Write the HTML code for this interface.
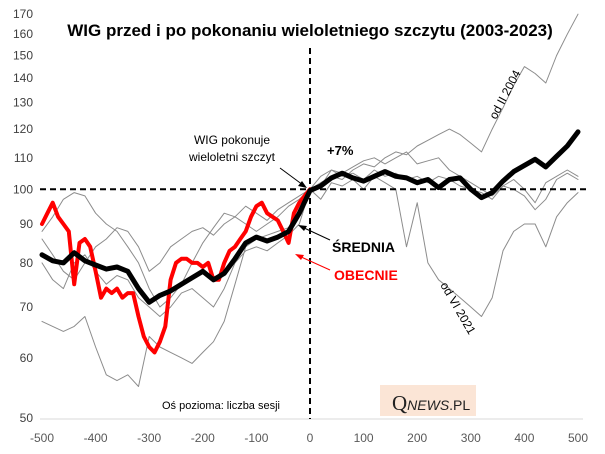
<!DOCTYPE html>
<html><head><meta charset="utf-8"><style>
body{margin:0;background:#fff}
svg{display:block;font-family:"Liberation Sans",sans-serif}
</style></head><body>
<svg id="c" width="605" height="454" viewBox="0 0 605 454">
<rect width="605" height="454" fill="#fff"/>
<text x="310" y="36" text-anchor="middle" font-size="17" font-weight="bold" fill="#000">WIG przed i po pokonaniu wieloletniego szczytu (2003-2023)</text>
<g id="yaxis"></g>
<g id="xaxis"></g>
<rect x="380" y="385" width="96" height="31" fill="#fbe5d6"/>
<text x="392" y="410" font-family="Liberation Serif,serif" font-size="21" fill="#222">Q<tspan font-size="14" font-style="italic" font-family="Liberation Sans,sans-serif">NEWS</tspan><tspan font-size="14" font-family="Liberation Sans,sans-serif">.PL</tspan></text>
<g id="series"></g>
<g id="ref"></g>
<text x="232" y="144" text-anchor="middle" font-size="12" fill="#000">WIG pokonuje</text>
<text x="232" y="161" text-anchor="middle" font-size="12" fill="#000">wieloletni szczyt</text>
<line x1="280" y1="168" x2="303" y2="185" stroke="#000" stroke-width="1"/>
<polygon points="307,188 298,186 302,181" fill="#000"/>
<text x="327" y="155" font-size="13" font-weight="bold" fill="#000">+7%</text>
<text x="332" y="252" font-size="14" font-weight="bold" fill="#000">ŚREDNIA</text>
<line x1="330" y1="240" x2="302" y2="227" stroke="#000" stroke-width="1"/>
<polygon points="298,225 307,226 304,231" fill="#000"/>
<text x="334" y="280" font-size="14" font-weight="bold" fill="#ff0000">OBECNIE</text>
<line x1="330" y1="270" x2="299" y2="256" stroke="#ff0000" stroke-width="1"/>
<polygon points="295,254 304,255 301,260" fill="#ff0000"/>
<text transform="translate(496,120) rotate(-62)" font-size="12" fill="#000">od II 2004</text>
<text transform="translate(440,285) rotate(60)" font-size="12" fill="#000">od VI 2021</text>
<text x="162" y="409" font-size="11" fill="#000">Oś pozioma: liczba sesji</text>
</svg>
<script>
const yTicks=[50,60,70,80,90,100,110,120,130,140,150,160,170];
const xTicks=[-500,-400,-300,-200,-100,0,100,200,300,400,500];
const preSessions=[-500,-480,-460,-440,-420,-400,-380,-360,-340,-320,-300,-280,-260,-240,-220,-200,-180,-160,-140,-120,-100,-80,-60,-40,-20,0];
const postSessions=[20,40,60,80,100,120,140,160,180,200,220,240,260,280,300,320,340,360,380,400,420,440,460,480,500];
const g1Pre=[67,66,65,66,68,62,57,56,57,55,64,62,61,60,59,61,63,67,75,84,86,87,88,89,94,100];
const g1Post=[102,104,103,106,108,107,110,112,111,114,116,118,120,118,115,112,120,128,137,145,142,138,150,160,170];
const g2Pre=[88,92,97,99,98,93,90,88,84,80,74,70,72,75,80,85,89,93,92,90,88,90,92,95,97,100];
const g2Post=[97,102,101,103,100,104,102,100,84,96,80,76,74,72,70,68,72,83,88,90,90,84,92,96,99];
const g3Pre=[86,82,78,76,80,84,86,89,88,84,78,80,84,86,88,89,87,90,92,95,93,91,94,96,98,100];
const g3Post=[104,106,105,107,109,110,108,110,112,108,109,110,106,104,102,100,98,101,103,100,96,102,104,106,104];
const g4Pre=[80,76,74,80,82,78,75,77,76,72,70,68,70,73,74,72,70,74,80,83,84,83,85,87,90,100];
const g4Post=[101,106,104,105,103,106,104,105,103,104,102,104,103,101,100,99,97,101,100,98,94,97,103,105,103];
const avgPre=[82,80.5,80,82.5,80.5,79.5,78.5,79,78,74,71,72.5,73.5,75,76.5,78,76,77.5,81,85,86.5,85.5,86.5,88,93,99.6];
const avgPost=[101,103.5,105,103.5,102.5,104,105.5,104,103.5,102,103,100.5,103,103.5,100,97.5,99,102.5,105.5,107.5,109.5,107,110.5,114,119];
const currentSessions=[-500,-490,-480,-470,-460,-450,-440,-430,-420,-410,-400,-390,-380,-370,-360,-350,-340,-330,-320,-310,-300,-290,-280,-270,-260,-250,-240,-230,-220,-210,-200,-190,-180,-170,-160,-150,-140,-130,-120,-110,-100,-90,-80,-70,-60,-50,-40,-30,-20,-10,0];
const currentVals=[90,93,96,92,90,88,75,85,86,84,78,72,74,73,74,72,73,73,68,64,62,61,63,66,76,80,81,81,80,80,79,80,76,76,80,83,84,86,88,92,95,96,93,92,91,88,85,93,96,98,100];

const NS="http://www.w3.org/2000/svg";
const X0=42,X1=578,YB=418,K=330;
function xs(s){return X0+(s+500)/1000*(X1-X0);}
function ys(v){return YB-Math.log(v/50)*K;}
function mk(t,a,p){const e=document.createElementNS(NS,t);for(const k in a)e.setAttribute(k,a[k]);(p||document.getElementById('c')).appendChild(e);return e;}
const ya=document.getElementById('yaxis'),xa=document.getElementById('xaxis');
yTicks.forEach(v=>{const t=mk('text',{x:33,y:ys(v)+4,'text-anchor':'end','font-size':12,fill:'#404040'},ya);t.textContent=v;

});
const al=mk('line',{x1:40,x2:583,y1:YB+1,y2:YB+1,stroke:'#d9d9d9','stroke-width':1},xa);


xTicks.forEach(s=>{const t=mk('text',{x:xs(s),y:442,'text-anchor':'middle','font-size':12,fill:'#595959'},xa);t.textContent=s;

});
const sg=document.getElementById('series');
function line(ss,vs,col,w,name){const d=ss.map((s,i)=>(i?'L':'M')+xs(s).toFixed(1)+','+ys(vs[i]).toFixed(1)).join('');
const p=mk('path',{d:d,fill:'none',stroke:col,'stroke-width':w,'stroke-linejoin':'round','stroke-linecap':'round'},sg);

}
const all=preSessions.concat(postSessions);
line(all,g1Pre.concat(g1Post),'#8c8c8c',1,'series-od-ii-2004');
line(all,g2Pre.concat(g2Post),'#8c8c8c',1,'series-od-vi-2021');
line(all,g3Pre.concat(g3Post),'#8c8c8c',1,'series-gray-3');
line(all,g4Pre.concat(g4Post),'#8c8c8c',1,'series-gray-4');
line(currentSessions,currentVals,'#ff0000',4,'series-obecnie');
line(all,avgPre.concat(avgPost),'#000',5,'series-srednia');
const rg=document.getElementById('ref');
const h=mk('line',{x1:40,x2:590,y1:ys(100),y2:ys(100),stroke:'#000','stroke-width':2,'stroke-dasharray':'6,4'},rg);


const v=mk('line',{x1:xs(0),x2:xs(0),y1:48,y2:YB+1,stroke:'#000','stroke-width':2,'stroke-dasharray':'6,4'},rg);


</script>
</body></html>
